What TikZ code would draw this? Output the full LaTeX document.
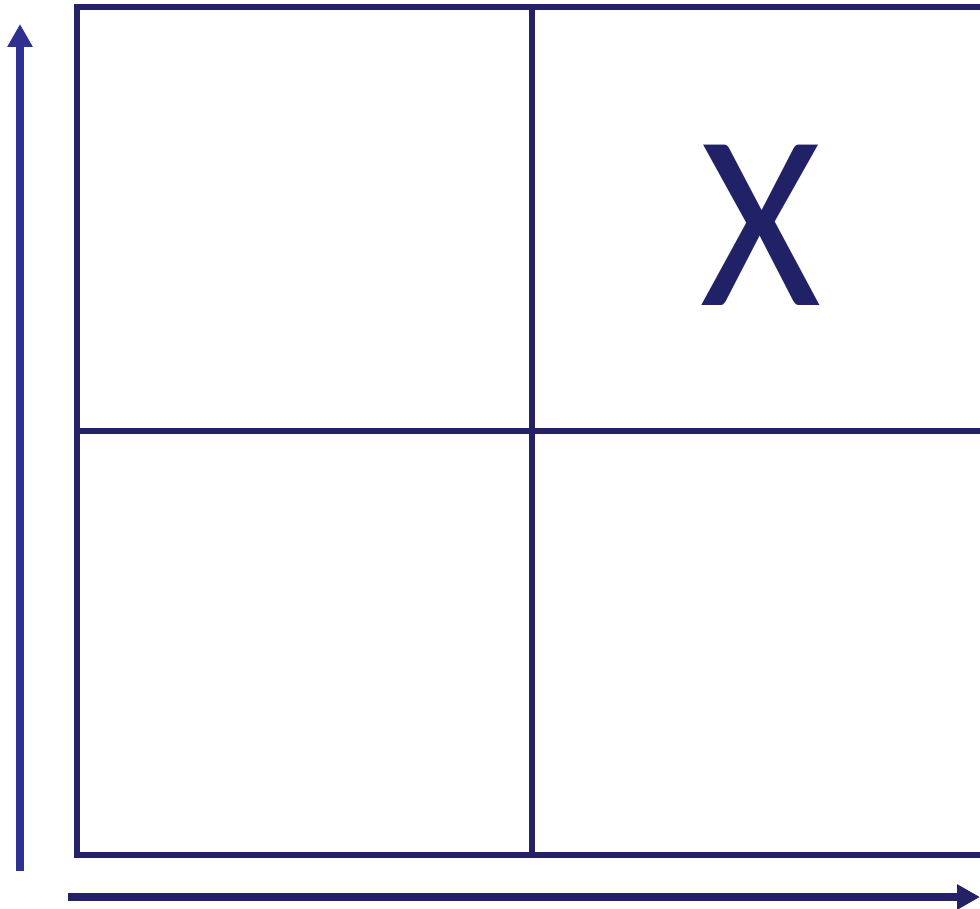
\documentclass[tikz,border=0pt]{standalone}
\usepackage{fontspec}
\setmainfont{Carlito}
\usetikzlibrary{arrows.meta}
\definecolor{gridnavy}{RGB}{36,34,100}
\definecolor{axisblue}{RGB}{46,49,146}
\definecolor{xnavy}{RGB}{33,33,104}
\begin{document}
\begin{tikzpicture}[x=1pt,y=-1pt,
  gridline/.style={draw=gridnavy,line width=6pt,line cap=rect},
  axisarrow/.style={line width=8pt,-{Triangle[width=24pt,length=23pt]}},
  mark label/.style={text=xnavy,font=\fontsize{250}{250}\selectfont,inner sep=0pt,anchor=base,xscale=0.93}]
\useasboundingbox (0,0) rectangle (980,909);
\fill[white] (0,0) rectangle (980,909);
% grid cells
\coordinate (tl) at (77,7);
\coordinate (tm) at (532,7);
\coordinate (tr) at (990,7);
\coordinate (ml) at (77,431);
\coordinate (mr) at (990,431);
\coordinate (bl) at (77,855);
\coordinate (bm) at (532,855);
\coordinate (br) at (990,855);
\draw[gridline] (tr) -- (tl) -- (bl) -- (br);
\draw[gridline] (tm) -- (bm);
\draw[gridline] (ml) -- (mr);
% axes
\coordinate (ya) at (20,871);
\coordinate (yb) at (20,24);
\coordinate (xa) at (68,897);
\coordinate (xb) at (980,897);
\draw[axisarrow,draw=axisblue,fill=axisblue] (ya) -- (yb);
\draw[axisarrow,draw=gridnavy,fill=gridnavy] (xa) -- (xb);
% label
\node[mark label] (xlabel) at (761,306) {X};
\end{tikzpicture}
\end{document}
